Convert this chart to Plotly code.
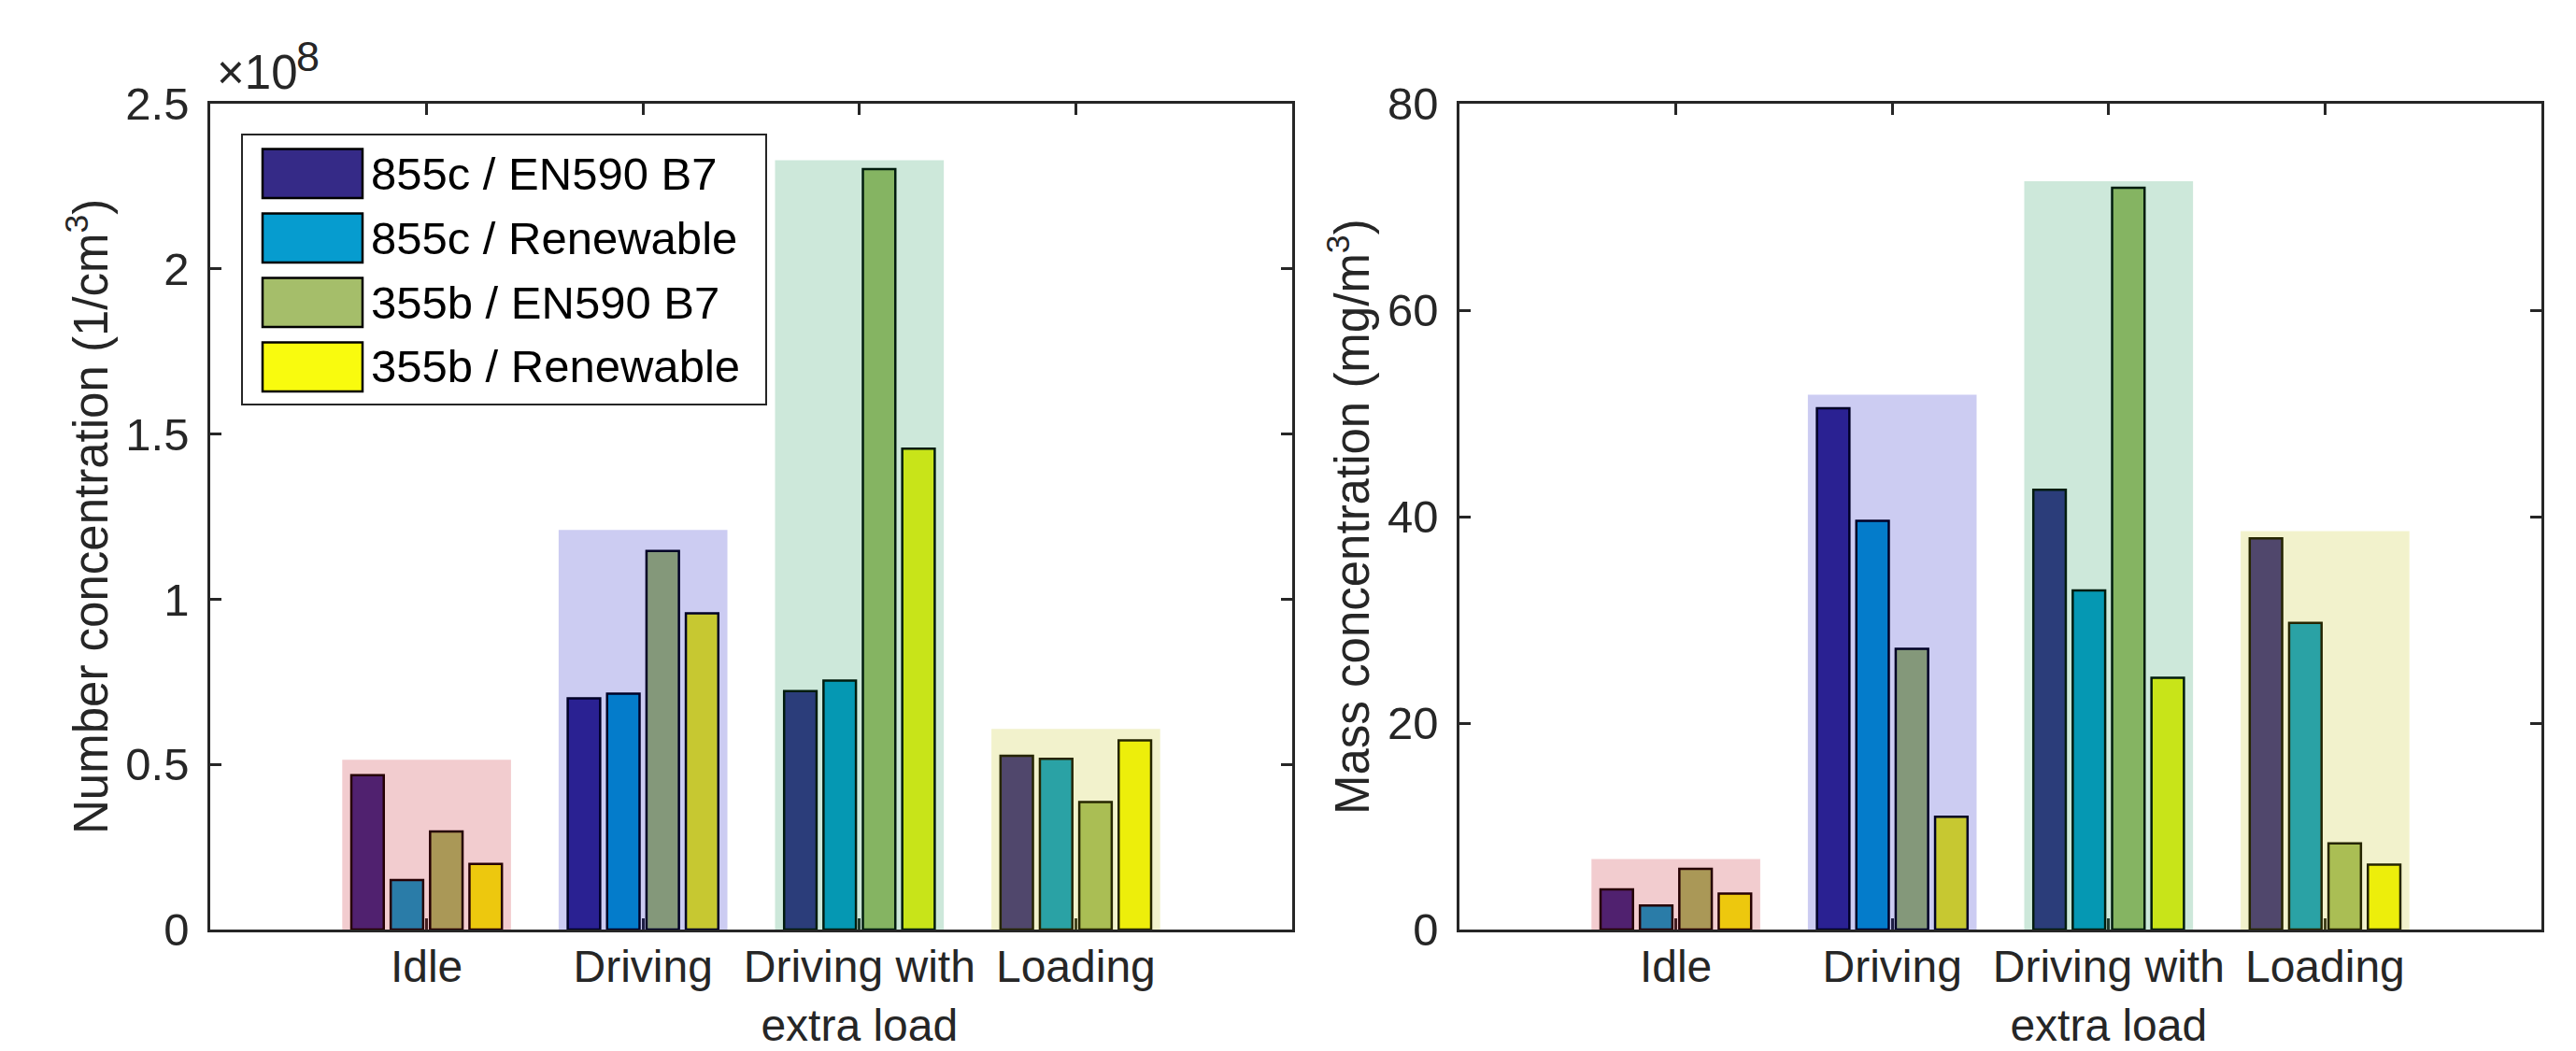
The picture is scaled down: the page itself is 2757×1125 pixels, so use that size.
import plotly.graph_objects as go

# ---------------- data ----------------
categories = ["Idle", "Driving", "Driving with<br>extra load", "Loading"]
series_names = ["855c / EN590 B7", "855c / Renewable", "355b / EN590 B7", "355b / Renewable"]

# Number concentration (1/cm^3)
number_855c_b7 = [0.467e8, 0.700e8, 0.722e8, 0.526e8]
number_855c_ren = [0.150e8, 0.714e8, 0.754e8, 0.517e8]
number_355b_b7 = [0.297e8, 1.146e8, 2.302e8, 0.386e8]
number_355b_ren = [0.199e8, 0.957e8, 1.456e8, 0.573e8]

# Mass concentration (mg/m^3)
mass_855c_b7 = [3.89, 50.5, 42.6, 37.9]
mass_855c_ren = [2.33, 39.6, 32.86, 29.7]
mass_355b_b7 = [5.89, 27.2, 71.85, 8.35]
mass_355b_ren = [3.48, 10.92, 24.4, 6.30]

# heights of the shaded highlight boxes behind each category
number_highlight_top = [0.514e8, 1.21e8, 2.329e8, 0.607e8]
mass_highlight_top = [6.84, 51.8, 72.5, 38.6]

number_ticks = [0, 0.5e8, 1e8, 1.5e8, 2e8, 2.5e8]
number_tick_labels = ["0", "0.5", "1", "1.5", "2", "2.5"]
mass_ticks = [0, 20, 40, 60, 80]
mass_tick_labels = ["0", "20", "40", "60", "80"]

# ---------------- styles ----------------
W, H = 2757, 1125
series_colors = ["#352A87", "#069CCF", "#A5BE6A", "#F9FB0E"]
highlight_colors = ["rgba(190,0,15,0.2)", "rgba(0,0,190,0.2)",
                    "rgba(5,140,70,0.2)", "rgba(190,190,0,0.2)"]
AX = "#262626"
FONT = "Liberation Sans, Arial, Helvetica, sans-serif"

cat_x = [1, 2, 3, 4]
number_series = [number_855c_b7, number_855c_ren, number_355b_b7, number_355b_ren]
mass_series = [mass_855c_b7, mass_855c_ren, mass_355b_b7, mass_355b_ren]

fig = go.Figure()
for vals, col, name in zip(number_series, series_colors, series_names):
    fig.add_trace(go.Bar(x=cat_x, y=vals, name=name, xaxis="x", yaxis="y",
                         marker=dict(color=col, line=dict(color="black", width=2.5)),
                         showlegend=False))
for vals, col, name in zip(mass_series, series_colors, series_names):
    fig.add_trace(go.Bar(x=cat_x, y=vals, name=name, xaxis="x2", yaxis="y2",
                         marker=dict(color=col, line=dict(color="black", width=2.5)),
                         showlegend=False))


def px_x(v):
    return v / W


def px_y(v):
    return 1 - v / H


# highlight boxes (drawn over bars, translucent)
half = 0.39
for xs, ys, tops in (("x", "y", number_highlight_top), ("x2", "y2", mass_highlight_top)):
    for cx, top, col in zip(cat_x, tops, highlight_colors):
        fig.add_shape(type="rect", xref=xs, yref=ys, x0=cx - half, x1=cx + half,
                      y0=0, y1=top, fillcolor=col, line=dict(width=0), layer="above")

axis_common = dict(showline=True, mirror="ticks", linecolor=AX, linewidth=2.5,
                   ticks="inside", ticklen=12, tickwidth=2.5, tickcolor=AX,
                   showgrid=False, zeroline=False, automargin=False)
x_font = dict(family=FONT, size=48, color=AX)
y_font = dict(family=FONT, size=49, color=AX)

fig.update_layout(
    template="none",
    width=W, height=H, autosize=False,
    margin=dict(l=0, r=0, t=0, b=0, pad=0),
    paper_bgcolor="white", plot_bgcolor="white",
    font=dict(family=FONT, color=AX),
    barmode="group", bargap=0.272, bargroupgap=0.176,
    showlegend=False,
    xaxis=dict(domain=[px_x(217), px_x(1375)], range=[0, 5], tickvals=cat_x,
               ticktext=categories, anchor="y", ticklabelstandoff=-4,
               tickfont=x_font, **axis_common),
    yaxis=dict(domain=[px_y(987), px_y(103)], range=[0, 2.5e8], tickvals=number_ticks,
               ticktext=number_tick_labels, anchor="x", ticklabelstandoff=10,
               tickfont=y_font, **axis_common),
    xaxis2=dict(domain=[px_x(1554), px_x(2712)], range=[0, 5], tickvals=cat_x,
                ticktext=categories, anchor="y2", ticklabelstandoff=-4,
                tickfont=x_font, **axis_common),
    yaxis2=dict(domain=[px_y(987), px_y(103)], range=[0, 80], tickvals=mass_ticks,
                ticktext=mass_tick_labels, anchor="x2", ticklabelstandoff=10,
                tickfont=y_font, **axis_common),
)

# axis titles
fig.add_annotation(text="Number concentration (1/cm<sup>3</sup>)", textangle=-90,
                   xref="paper", yref="paper", x=px_x(86), y=px_y(545),
                   xanchor="center", yanchor="middle", showarrow=False,
                   font=dict(family=FONT, size=51, color=AX))
fig.add_annotation(text="Mass concentration (mg/m<sup>3</sup>)", textangle=-90,
                   xref="paper", yref="paper", x=px_x(1436), y=px_y(545),
                   xanchor="center", yanchor="middle", showarrow=False,
                   font=dict(family=FONT, size=51, color=AX))
# exponent label: "x10" with raised "8"
fig.add_annotation(text="\u00d710", xref="paper", yref="paper",
                   x=px_x(222), y=px_y(70), xanchor="left", yanchor="middle",
                   showarrow=False, font=dict(family=FONT, size=51, color=AX))
fig.add_annotation(text="8", xref="paper", yref="paper",
                   x=px_x(307), y=px_y(53), xanchor="left", yanchor="middle",
                   showarrow=False, font=dict(family=FONT, size=45, color=AX))

# legend box (built from series names / colors)
fig.add_shape(type="rect", xref="paper", yref="paper",
              x0=px_x(251), x1=px_x(812), y0=px_y(425), y1=px_y(136),
              fillcolor="white", line=dict(color=AX, width=2), layer="above")
for i, (name, col) in enumerate(zip(series_names, series_colors)):
    top = 151.5 + 69 * i
    fig.add_shape(type="rect", xref="paper", yref="paper",
                  x0=px_x(273), x1=px_x(380), y0=px_y(top + 52.5), y1=px_y(top),
                  fillcolor=col, line=dict(color="black", width=2.5), layer="above")
    fig.add_annotation(text=name, xref="paper", yref="paper",
                       x=px_x(387), y=px_y(top + 26), xanchor="left", yanchor="middle",
                       showarrow=False, font=dict(family=FONT, size=49, color="black"))

fig.write_html("out.html")
